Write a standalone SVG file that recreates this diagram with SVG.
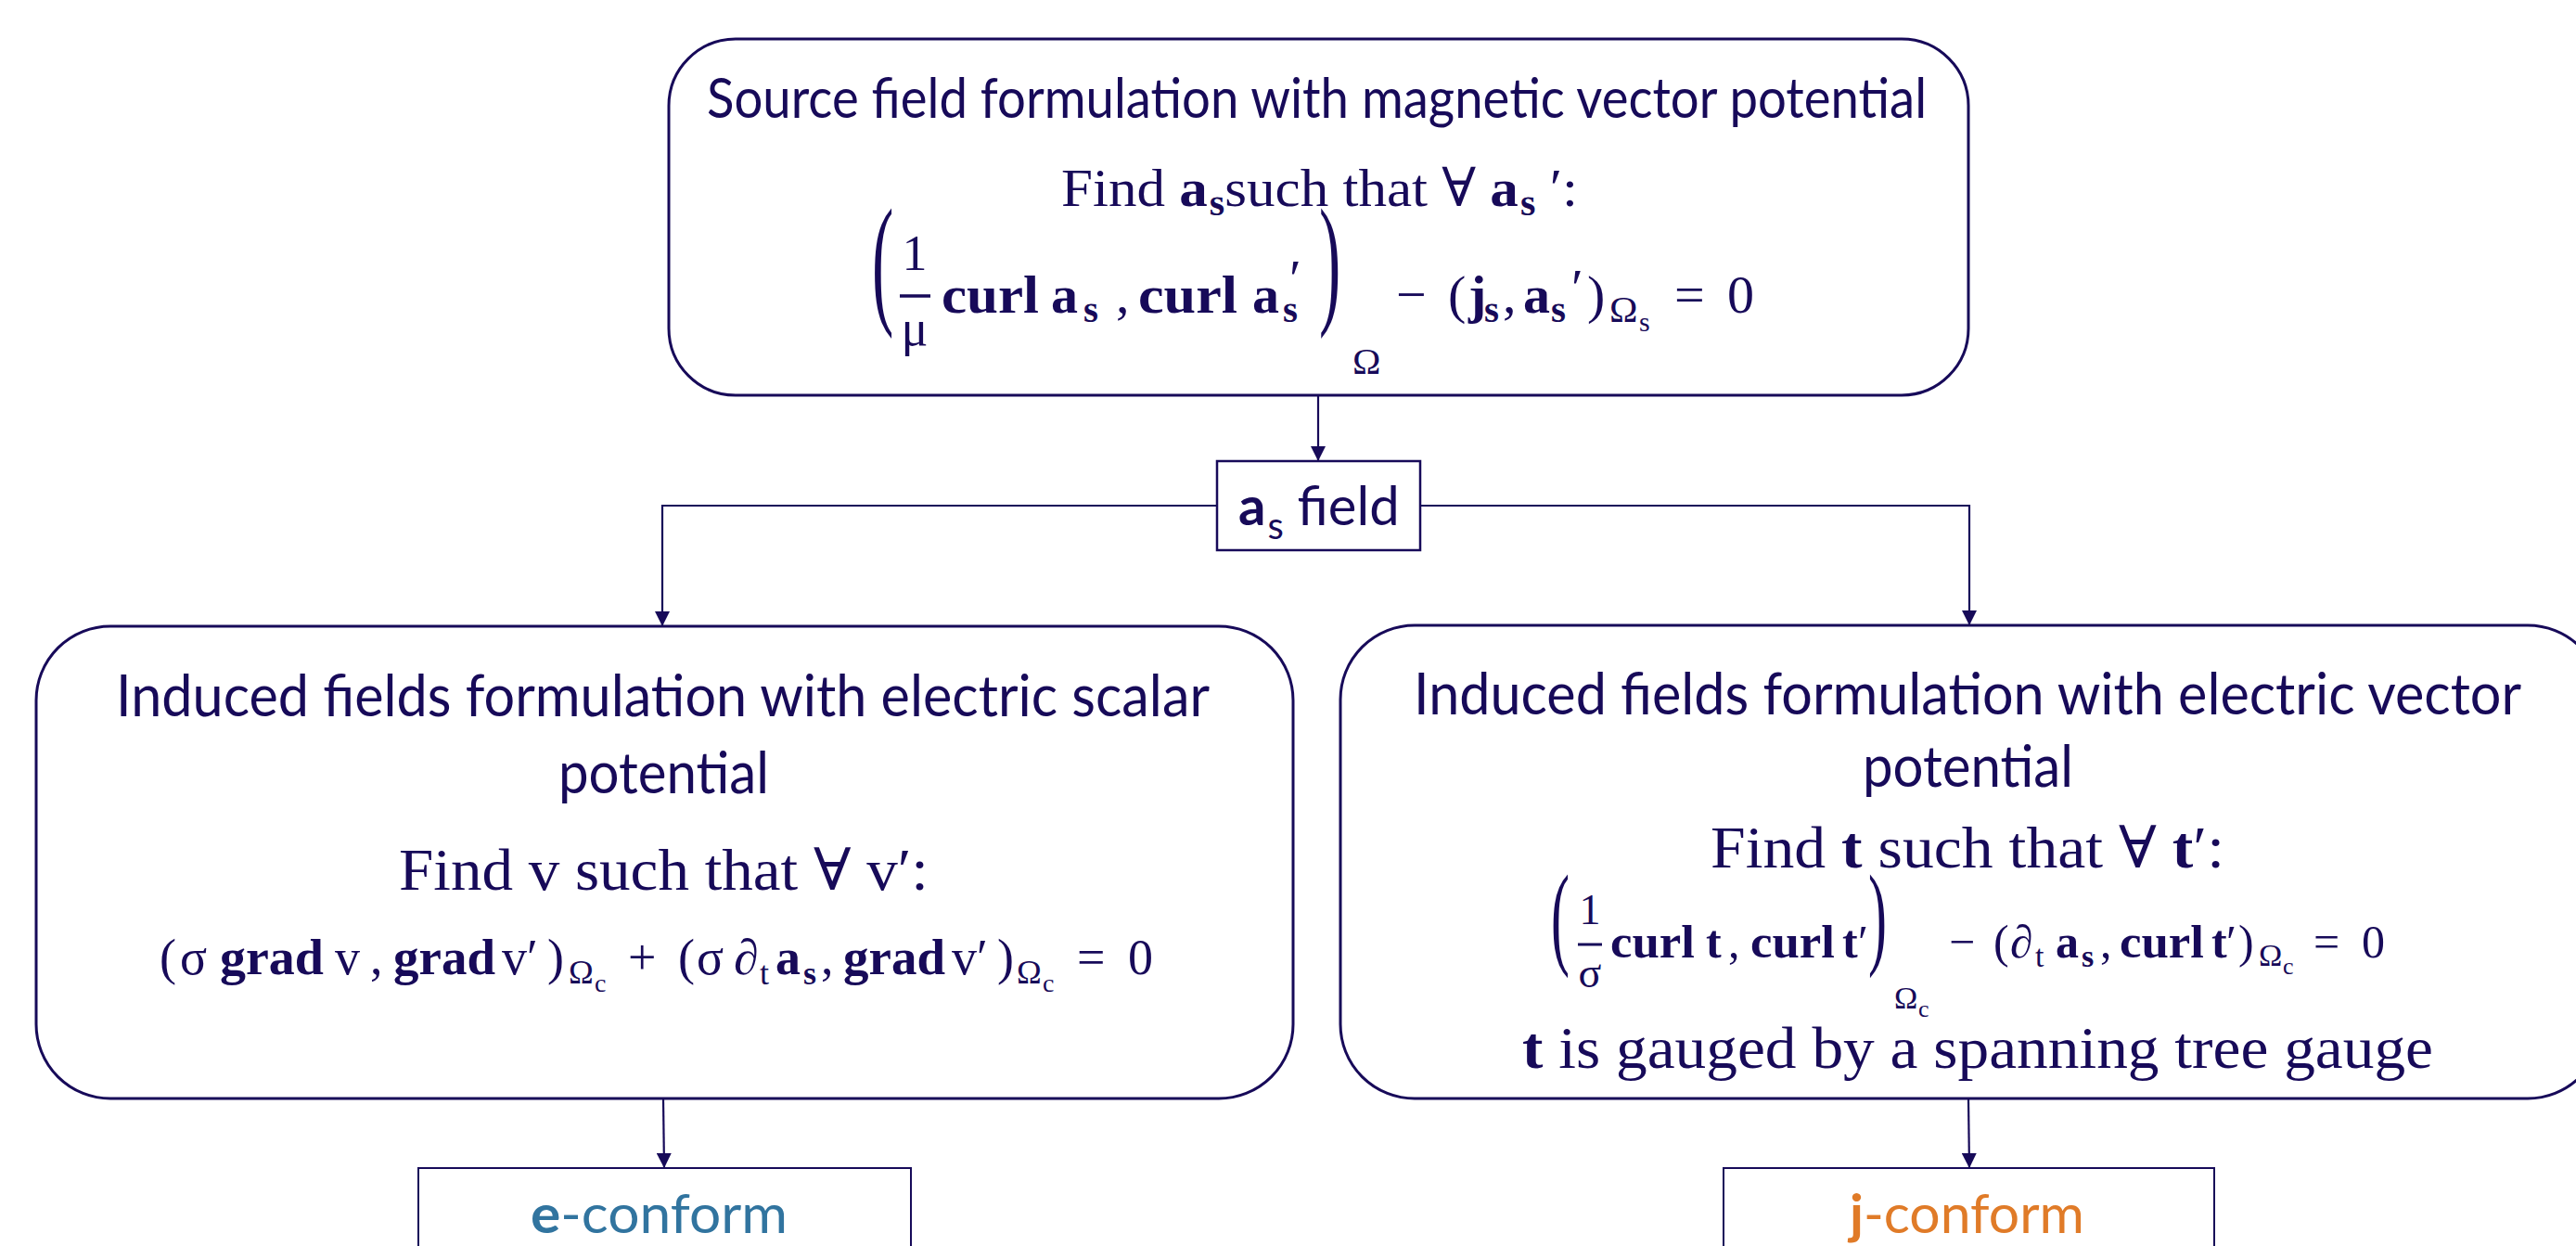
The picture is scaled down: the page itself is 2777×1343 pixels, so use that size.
<svg xmlns="http://www.w3.org/2000/svg" width="2777" height="1343" viewBox="0 0 2777 1343">
<style>
.box{fill:#fff;stroke:#170a59;stroke-width:3}
.sq{fill:#fff;stroke:#170a59;stroke-width:2.5}
.conn{fill:none;stroke:#170a59;stroke-width:2.2}
.t{font-family:Lato,"Open Sans","Liberation Sans",sans-serif;fill:#170a59}
.m{font-family:"Liberation Serif","DejaVu Serif",serif;fill:#170a59}
.b{font-weight:bold}
</style>
<defs>
<marker id="arr" markerUnits="userSpaceOnUse" markerWidth="16" markerHeight="16" refX="16" refY="8" orient="auto">
<path d="M0,0 L16,8 L0,16 z" fill="#170a59"/>
</marker>
</defs>

<g id="connectors">
<line class="conn" x1="1421" y1="426" x2="1421" y2="497" marker-end="url(#arr)"/>
<polyline class="conn" points="1312,545 714,545 714,675" marker-end="url(#arr)"/>
<polyline class="conn" points="1531,545 2123,545 2123,674" marker-end="url(#arr)"/>
<line class="conn" x1="715" y1="1184" x2="716" y2="1259" marker-end="url(#arr)"/>
<line class="conn" x1="2122" y1="1184" x2="2123" y2="1259" marker-end="url(#arr)"/>
</g>

<g id="source">
<rect class="box" x="721" y="42" width="1401" height="384" rx="72" ry="72"/>
<text class="t" x="762" y="127" font-size="60" textLength="1315" lengthAdjust="spacingAndGlyphs">Source field formulation with magnetic vector potential</text>
<text class="m" x="1144" y="222" font-size="58" textLength="557" lengthAdjust="spacingAndGlyphs">Find <tspan class="b">a</tspan><tspan class="b" font-size="40" dx="2" dy="10">s</tspan><tspan dy="-10">such that ∀ </tspan><tspan class="b">a</tspan><tspan class="b" font-size="40" dx="2" dy="10">s</tspan><tspan dy="-10"> ′:</tspan></text>
<g class="m" font-size="58">
<text x="940" y="332" transform="translate(940,332) scale(1,2.2) translate(-940,-332)" font-size="70">(</text>
<text x="986" y="291" text-anchor="middle" font-size="54">1</text>
<line x1="970" y1="319" x2="1003" y2="319" stroke="#170a59" stroke-width="3.5"/>
<text x="986" y="372" text-anchor="middle" font-size="54">μ</text>
<text class="b" x="1015" y="337" textLength="105" lengthAdjust="spacingAndGlyphs">curl</text>
<text class="b" x="1133" y="337">a</text>
<text class="b" x="1168" y="347" font-size="41">s</text>
<text x="1203" y="337">,</text>
<text class="b" x="1227" y="337" textLength="107" lengthAdjust="spacingAndGlyphs">curl</text>
<text class="b" x="1350" y="337">a</text>
<text class="b" x="1383" y="347" font-size="41">s</text>
<text x="1390" y="320">′</text>
<text x="1422" y="332" transform="translate(1422,332) scale(1,2.2) translate(-1422,-332)" font-size="70">)</text>
<text x="1458" y="403" font-size="41">Ω</text>
<text x="1505" y="337">−</text>
<text x="1561" y="337">(</text>
<text class="b" x="1583" y="337">j</text>
<text class="b" x="1600" y="347" font-size="41">s</text>
<text x="1620" y="337">,</text>
<text class="b" x="1642" y="337">a</text>
<text class="b" x="1672" y="347" font-size="41">s</text>
<text x="1694" y="330">′</text>
<text x="1711" y="337">)</text>
<text x="1735" y="347" font-size="41">Ω</text>
<text x="1767" y="357" font-size="30">s</text>
<text x="1805" y="337">=</text>
<text x="1862" y="337">0</text>
</g>
</g>

<g id="asfield">
<rect class="sq" x="1312" y="497" width="219" height="96"/>
<text class="t" x="1335" y="566" font-size="58"><tspan class="b">a</tspan><tspan font-size="40" dx="2" dy="15">s</tspan><tspan dy="-15"> field</tspan></text>
</g>

<g id="scalar">
<rect class="box" x="39" y="675" width="1355" height="509" rx="80" ry="80"/>
<text class="t" x="125" y="772" font-size="62" textLength="1179" lengthAdjust="spacingAndGlyphs">Induced fields formulation with electric scalar</text>
<text class="t" x="602" y="855" font-size="62" textLength="227" lengthAdjust="spacingAndGlyphs">potential</text>
<text class="m" x="430" y="959" font-size="63" textLength="571" lengthAdjust="spacingAndGlyphs">Find v such that ∀ v′:</text>
<g class="m" font-size="54">
<text x="172" y="1050">(</text>
<text x="194" y="1050">σ</text>
<text class="b" x="237" y="1050" textLength="112" lengthAdjust="spacingAndGlyphs">grad</text>
<text x="361" y="1050">v</text>
<text x="399" y="1050">,</text>
<text class="b" x="424" y="1050" textLength="110" lengthAdjust="spacingAndGlyphs">grad</text>
<text x="541" y="1050">v′</text>
<text x="590" y="1050">)</text>
<text x="613" y="1060" font-size="36">Ω</text>
<text x="641" y="1069" font-size="28">c</text>
<text x="677" y="1050">+</text>
<text x="731" y="1050">(</text>
<text x="751" y="1050">σ</text>
<text x="791" y="1050">∂</text>
<text x="819" y="1061" font-size="36">t</text>
<text class="b" x="836" y="1050">a</text>
<text class="b" x="866" y="1061" font-size="36">s</text>
<text x="885" y="1050">,</text>
<text class="b" x="909" y="1050" textLength="110" lengthAdjust="spacingAndGlyphs">grad</text>
<text x="1026" y="1050">v′</text>
<text x="1075" y="1050">)</text>
<text x="1096" y="1060" font-size="36">Ω</text>
<text x="1124" y="1069" font-size="28">c</text>
<text x="1161" y="1050">=</text>
<text x="1216" y="1050">0</text>
</g>
</g>

<g id="vector">
<rect class="box" x="1445" y="674" width="1360" height="510" rx="80" ry="80"/>
<text class="t" x="1524" y="770" font-size="62" textLength="1194" lengthAdjust="spacingAndGlyphs">Induced fields formulation with electric vector</text>
<text class="t" x="2008" y="848" font-size="62" textLength="227" lengthAdjust="spacingAndGlyphs">potential</text>
<text class="m" x="1844" y="935" font-size="63" textLength="554" lengthAdjust="spacingAndGlyphs">Find <tspan class="b">t</tspan> such that ∀ <tspan class="b">t</tspan>′:</text>
<g class="m" font-size="50">
<text x="1672" y="1028" transform="translate(1672,1028) scale(1,2.05) translate(-1672,-1028)" font-size="60">(</text>
<text x="1714" y="996" text-anchor="middle" font-size="46">1</text>
<line x1="1701" y1="1018" x2="1727" y2="1018" stroke="#170a59" stroke-width="3"/>
<text x="1714" y="1064" text-anchor="middle" font-size="46">σ</text>
<text class="b" x="1736" y="1032" textLength="91" lengthAdjust="spacingAndGlyphs">curl</text>
<text class="b" x="1839" y="1032">t</text>
<text x="1863" y="1032">,</text>
<text class="b" x="1887" y="1032" textLength="91" lengthAdjust="spacingAndGlyphs">curl</text>
<text class="b" x="1986" y="1032">t</text>
<text x="2003" y="1032">′</text>
<text x="2014" y="1028" transform="translate(2014,1028) scale(1,2.05) translate(-2014,-1028)" font-size="60">)</text>
<text x="2042" y="1087" font-size="34">Ω</text>
<text x="2068" y="1096" font-size="26">c</text>
<text x="2101" y="1032">−</text>
<text x="2149" y="1032">(</text>
<text x="2167" y="1032">∂</text>
<text x="2194" y="1042" font-size="34">t</text>
<text class="b" x="2216" y="1032">a</text>
<text class="b" x="2244" y="1042" font-size="34">s</text>
<text x="2264" y="1032">,</text>
<text class="b" x="2285" y="1032" textLength="91" lengthAdjust="spacingAndGlyphs">curl</text>
<text class="b" x="2384" y="1032">t</text>
<text x="2400" y="1032">′</text>
<text x="2413" y="1032">)</text>
<text x="2435" y="1041" font-size="34">Ω</text>
<text x="2461" y="1050" font-size="26">c</text>
<text x="2494" y="1032">=</text>
<text x="2546" y="1032">0</text>
</g>
<text class="m" x="1641" y="1151" font-size="63" textLength="982" lengthAdjust="spacingAndGlyphs"><tspan class="b">t</tspan> is gauged by a spanning tree gauge</text>
</g>

<g id="econform">
<rect x="451" y="1259" width="531" height="110" fill="#fff" stroke="#170a59" stroke-width="2"/>
<text class="t" x="572" y="1329" font-size="58" style="fill:#31749f" textLength="277" lengthAdjust="spacingAndGlyphs"><tspan class="b">e</tspan>-conform</text>
</g>

<g id="jconform">
<rect x="1858" y="1259" width="529" height="110" fill="#fff" stroke="#170a59" stroke-width="2"/>
<text class="t" x="1994" y="1329" font-size="58" style="fill:#e07b28" textLength="253" lengthAdjust="spacingAndGlyphs"><tspan class="b">j</tspan>-conform</text>
</g>
</svg>
